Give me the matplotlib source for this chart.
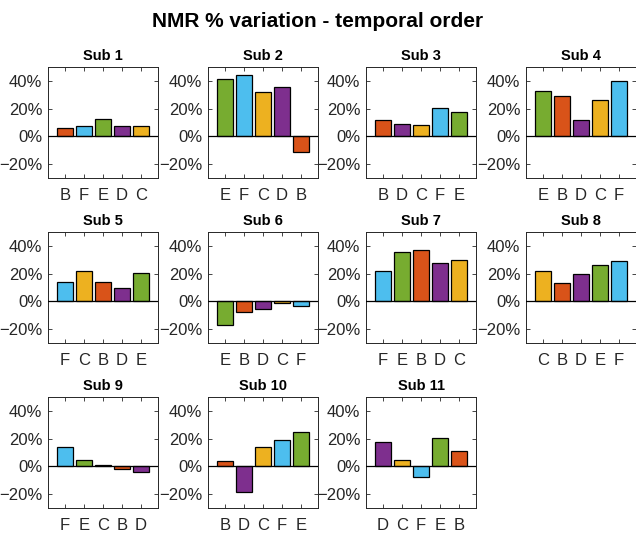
import numpy as np
import matplotlib
matplotlib.use("Agg")
import matplotlib.pyplot as plt
from matplotlib.ticker import PercentFormatter

plt.rcParams['font.family'] = ['Liberation Sans', 'DejaVu Sans']

# MATLAB default colours, one per condition
cond_colors = {
    'B': '#D95319',
    'C': '#EDB120',
    'D': '#7E2F8E',
    'E': '#77AC30',
    'F': '#4DBEEE',
}

subjects = ['Sub 1', 'Sub 2', 'Sub 3', 'Sub 4', 'Sub 5', 'Sub 6',
            'Sub 7', 'Sub 8', 'Sub 9', 'Sub 10', 'Sub 11']

# temporal order of conditions per subject
orders = [
    ['B', 'F', 'E', 'D', 'C'],
    ['E', 'F', 'C', 'D', 'B'],
    ['B', 'D', 'C', 'F', 'E'],
    ['E', 'B', 'D', 'C', 'F'],
    ['F', 'C', 'B', 'D', 'E'],
    ['E', 'B', 'D', 'C', 'F'],
    ['F', 'E', 'B', 'D', 'C'],
    ['C', 'B', 'D', 'E', 'F'],
    ['F', 'E', 'C', 'B', 'D'],
    ['B', 'D', 'C', 'F', 'E'],
    ['D', 'C', 'F', 'E', 'B'],
]

# NMR % variation, same order as above
variation = [
    [6.0, 7.2, 12.5, 7.7, 7.7],
    [41.0, 44.3, 32.0, 35.4, -11.3],
    [11.8, 8.7, 8.0, 20.7, 17.3],
    [32.5, 29.2, 11.8, 26.5, 40.0],
    [14.0, 21.7, 14.2, 9.6, 20.5],
    [-17.3, -8.0, -5.8, -1.2, -3.1],
    [22.2, 35.4, 36.9, 27.5, 30.1],
    [21.9, 13.5, 19.5, 26.3, 29.2],
    [13.8, 4.3, 0.7, -1.9, -4.3],
    [3.6, -18.3, 14.3, 19.3, 24.5],
    [17.4, 4.5, -7.9, 20.2, 11.4],
]

W, H = 636, 534
fig = plt.figure(figsize=(W / 100, H / 100), dpi=100)

col_left = [48, 208, 366, 526]
row_top = [67, 232, 397]
ax_w, ax_h = 110, 111

axcol = '#262626'
for i, name in enumerate(subjects):
    r, c = divmod(i, 4)
    rect = [col_left[c] / W, 1 - (row_top[r] + ax_h) / H, ax_w / W, ax_h / H]
    ax = fig.add_axes(rect)
    x = np.arange(1, 6)
    cols = [cond_colors[k] for k in orders[i]]
    ax.bar(x, variation[i], width=0.8, color=cols, edgecolor='black', linewidth=0.9, zorder=2)
    ax.axhline(0, color='black', linewidth=0.9, zorder=3)
    ax.set_xlim(0.1, 5.9)
    ax.set_ylim(-30, 50)
    ax.set_yticks([-20, 0, 20, 40])
    ax.yaxis.set_major_formatter(PercentFormatter(decimals=0))
    ax.set_xticks(x)
    ax.set_xticklabels(orders[i])
    ax.tick_params(direction='in', length=3, width=0.6, colors=axcol,
                   labelsize=12, top=True, right=True)
    ax.tick_params(axis='x', pad=7)
    ax.tick_params(axis='y', pad=4)
    for sp in ax.spines.values():
        sp.set_color(axcol)
        sp.set_linewidth(0.7)
    ax.set_title(name, fontsize=10.5, fontweight='bold', pad=5)

fig.suptitle('NMR % variation - temporal order', fontsize=15, fontweight='bold', y=0.978)

fig.savefig('out.png', dpi=100)
